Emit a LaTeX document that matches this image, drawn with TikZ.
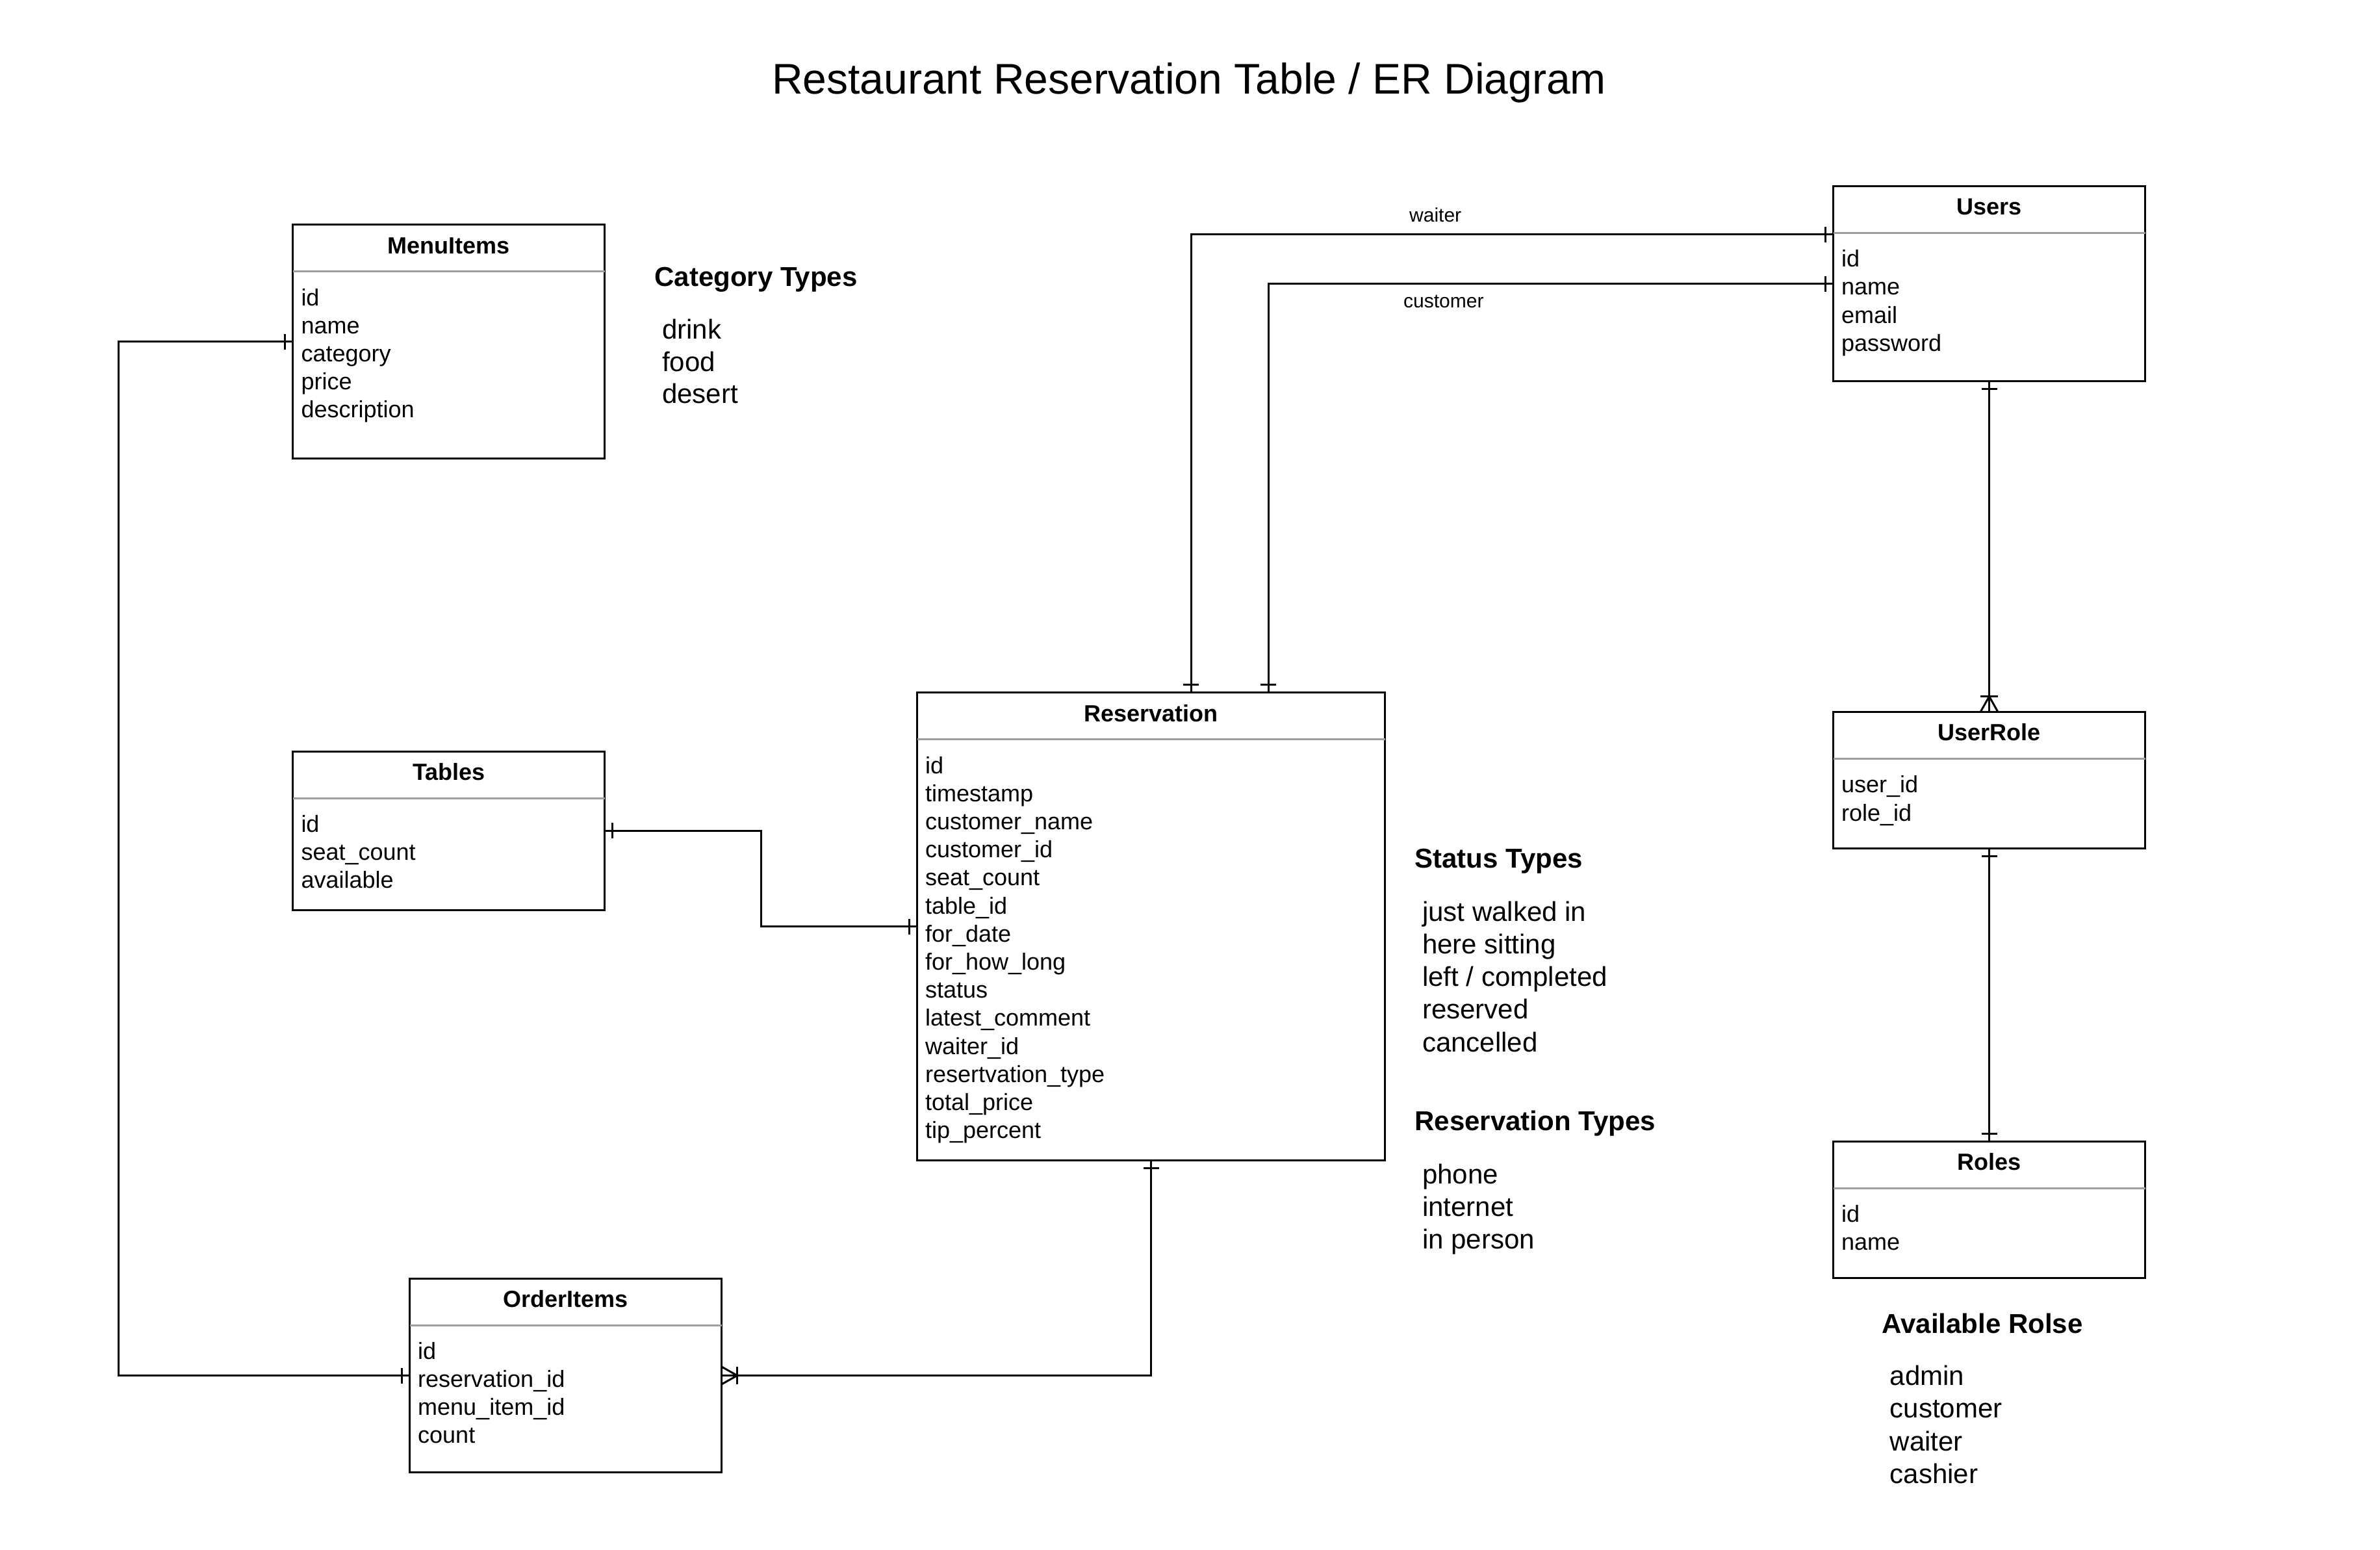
\documentclass[tikz,border=0pt]{standalone}
\usepackage{fontspec}
\setmainfont{Liberation Sans}
\usetikzlibrary{decorations.markings}
\definecolor{divgray}{HTML}{9E9E9E}

\begin{document}
\begin{tikzpicture}[x=1pt, y=-1pt,
  entity/.style={draw, line width=1pt, minimum width=160pt, anchor=north west, inner sep=0pt, outer sep=0pt},
  divider/.style={draw=divgray, line width=1pt},
  etitle/.style={anchor=base, inner sep=0pt, font=\fontsize{12}{14.4}\selectfont\bfseries},
  field/.style={anchor=base west, inner sep=0pt, font=\fontsize{12}{14.4}\selectfont},
  notehead/.style={anchor=base west, inner sep=0pt, font=\fontsize{14}{16.8}\selectfont\bfseries},
  note/.style={anchor=base west, inner sep=0pt, font=\fontsize{14}{16.8}\selectfont},
  elabel/.style={anchor=base, inner sep=0pt, font=\fontsize{10}{12}\selectfont},
  conn/.style={draw, line width=1pt},
  onestart/.style={postaction={decorate, decoration={markings,
    mark=at position 4pt with {\draw[line width=1pt] (0,-4pt) -- (0,4pt);}}}},
  oneend/.style={postaction={decorate, decoration={markings,
    mark=at position -4pt with {\draw[line width=1pt] (0,-4pt) -- (0,4pt);}}}},
  manyend/.style={postaction={decorate, decoration={markings,
    mark=at position -8pt with {\draw[line width=1pt] (0,-4.5pt) -- (0,4.5pt);
      \draw[line width=1pt] (8pt,-4.5pt) -- (0,0) -- (8pt,4.5pt);}}}}
]
\fill[white] (0,0) rectangle (1221,795);
\useasboundingbox (0,0) rectangle (1221,795);

% title
\node[anchor=base, inner sep=0pt, font=\fontsize{22}{26}\selectfont] (title) at (610,48.3) {Restaurant Reservation Table / ER Diagram};

% entities
\node[entity, minimum height=120pt] (menu) at (150.3,115.3) {};
\node[entity, minimum height=81.5pt] (tables) at (150.3,385.4) {};
\node[entity, minimum width=240pt, minimum height=240pt] (res) at (470.5,355.3) {};
\node[entity, minimum height=99.6pt] (orders) at (210.2,655.7) {};
\node[entity, minimum height=100pt] (users) at (940.5,95.5) {};
\node[entity, minimum height=70pt] (userrole) at (940.5,365.2) {};
\node[entity, minimum height=70pt] (roles) at (940.5,585.5) {};

\foreach \e/\t in {menu/MenuItems, tables/Tables, res/Reservation, orders/OrderItems, users/Users, userrole/UserRole, roles/Roles} {
  \draw[divider] ([yshift=-24pt]\e.north west) -- ([yshift=-24pt]\e.north east);
  \node[etitle] (\e-title) at ([yshift=-14.7pt]\e.north) {\t};
}

% fields
\foreach \f [count=\i from 0] in {id, name, category, price, description}
  \node[field] (menu-\i) at ([xshift=4pt, yshift={-41.4pt-14.4pt*\i}]menu.north west) {\f};
\foreach \f [count=\i from 0] in {id, seat\_count, available}
  \node[field] (tables-\i) at ([xshift=4pt, yshift={-41.4pt-14.4pt*\i}]tables.north west) {\f};
\foreach \f [count=\i from 0] in {id, timestamp, customer\_name, customer\_id, seat\_count, table\_id, for\_date, for\_how\_long, status, latest\_comment, waiter\_id, resertvation\_type, total\_price, tip\_percent}
  \node[field] (res-\i) at ([xshift=4pt, yshift={-41.4pt-14.4pt*\i}]res.north west) {\f};
\foreach \f [count=\i from 0] in {id, reservation\_id, menu\_item\_id, count}
  \node[field] (orders-\i) at ([xshift=4pt, yshift={-41.4pt-14.4pt*\i}]orders.north west) {\f};
\foreach \f [count=\i from 0] in {id, name, email, password}
  \node[field] (users-\i) at ([xshift=4pt, yshift={-41.4pt-14.4pt*\i}]users.north west) {\f};
\foreach \f [count=\i from 0] in {user\_id, role\_id}
  \node[field] (userrole-\i) at ([xshift=4pt, yshift={-41.4pt-14.4pt*\i}]userrole.north west) {\f};
\foreach \f [count=\i from 0] in {id, name}
  \node[field] (roles-\i) at ([xshift=4pt, yshift={-41.4pt-14.4pt*\i}]roles.north west) {\f};

% relations
\draw[conn, onestart, oneend] ([xshift=140.5pt]res.north west) |- ([yshift=-24.7pt]users.north west);
\draw[conn, onestart, oneend] ([xshift=180.3pt]res.north west) |- ([yshift=-50pt]users.north west);
\draw[conn, onestart, oneend] (menu.west) -- ++(-89.6,0) |- (orders.west);
\draw[conn, onestart, oneend] (tables.east) -- ++(80.3,0) |- (res.west);
\draw[conn, onestart, manyend] (res.south) |- (orders.east);
\draw[conn, onestart, manyend] (users.south) -- (userrole.north);
\draw[conn, onestart, oneend] (userrole.south) -- (roles.north);

\node[elabel] (lwaiter) at (736.4,113.7) {waiter};
\node[elabel] (lcustomer) at (740.6,157.8) {customer};

% notes
\node[notehead] (cathead) at (335.6,146.9) {Category Types};
\foreach \t [count=\i from 0] in {drink, food, desert}
  \node[note] (cat-\i) at (339.5,{173.9+16.5*\i}) {\t};
\node[notehead] (stathead) at (725.6,445) {Status Types};
\foreach \t [count=\i from 0] in {just walked in, here sitting, left / completed, reserved, cancelled}
  \node[note] (stat-\i) at (729.5,{472.4+16.75*\i}) {\t};
\node[notehead] (typehead) at (725.6,579.7) {Reservation Types};
\foreach \t [count=\i from 0] in {phone, internet, in person}
  \node[note] (type-\i) at (729.5,{607.1+16.75*\i}) {\t};
\node[notehead] (rolehead) at (965.3,683.9) {Available Rolse};
\foreach \t [count=\i from 0] in {admin, customer, waiter, cashier}
  \node[note] (role-\i) at (969.4,{710.6+16.7*\i}) {\t};
\end{tikzpicture}
\end{document}
